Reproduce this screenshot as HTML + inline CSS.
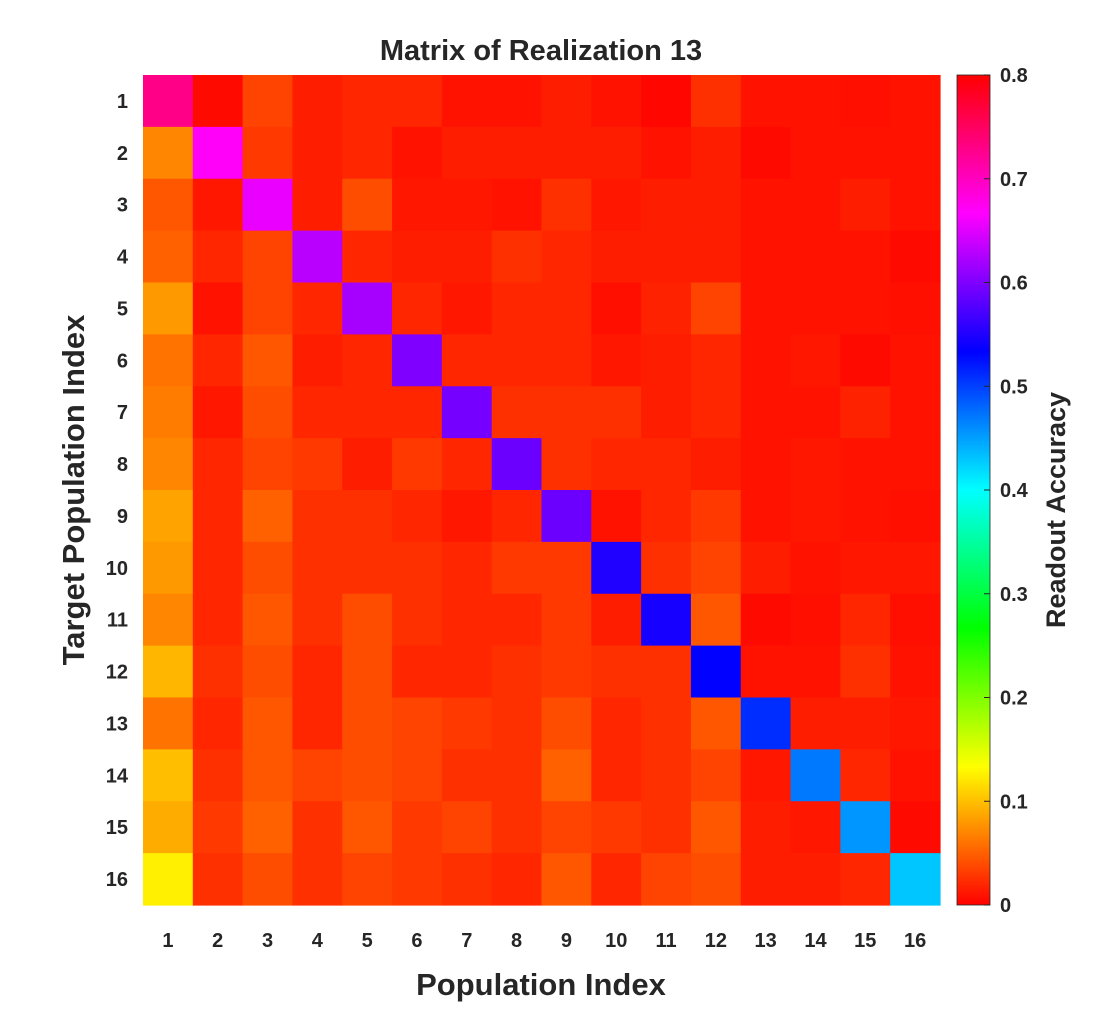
<!DOCTYPE html>
<html><head><meta charset="utf-8"><style>
body{margin:0;background:#fff;}
svg text{font-family:"Liberation Sans",sans-serif;fill:#262626;}
</style></head><body>
<svg id="chart" width="1094" height="1016">
<text x="541" y="60" text-anchor="middle" font-size="29" font-weight="bold">Matrix of Realization 13</text>
<g id="cells"></g>
<g id="xticks"></g>
<g id="yticks"></g>
<text x="541" y="995" text-anchor="middle" font-size="31" font-weight="bold">Population Index</text>
<text transform="translate(84,490) rotate(-90)" text-anchor="middle" font-size="31" font-weight="bold">Target Population Index</text>
<defs><linearGradient id="cbg" x1="0" y1="1" x2="0" y2="0">
<stop offset="0" stop-color="hsl(0,100%,50%)"/><stop offset="0.1667" stop-color="hsl(60,100%,50%)"/><stop offset="0.3333" stop-color="hsl(120,100%,50%)"/><stop offset="0.5" stop-color="hsl(180,100%,50%)"/><stop offset="0.6667" stop-color="hsl(240,100%,50%)"/><stop offset="0.8333" stop-color="hsl(300,100%,50%)"/><stop offset="1" stop-color="hsl(360,100%,50%)"/>
</linearGradient></defs>
<rect x="957" y="75" width="33" height="830" fill="url(#cbg)" stroke="#262626" stroke-width="0.8"/>
<g id="cbticks"></g>
<text transform="translate(1065,510) rotate(-90)" text-anchor="middle" font-size="27" font-weight="bold">Readout Accuracy</text>
</svg>
<script>
const rowLabels=["1","2","3","4","5","6","7","8","9","10","11","12","13","14","15","16"];
const colLabels=["1","2","3","4","5","6","7","8","9","10","11","12","13","14","15","16"];
const cbTicks=[0,0.1,0.2,0.3,0.4,0.5,0.6,0.7,0.8];
const row1=[0.73,0.005,0.035,0.015,0.02,0.02,0.01,0.01,0.015,0.01,0.003,0.025,0.01,0.01,0.008,0.01];
const row2=[0.07,0.67,0.03,0.015,0.02,0.01,0.015,0.015,0.015,0.015,0.01,0.015,0.005,0.01,0.01,0.01];
const row3=[0.045,0.012,0.655,0.015,0.04,0.012,0.012,0.01,0.025,0.012,0.015,0.015,0.01,0.01,0.015,0.01];
const row4=[0.05,0.02,0.035,0.63,0.02,0.015,0.015,0.025,0.02,0.015,0.015,0.015,0.01,0.01,0.01,0.005];
const row5=[0.08,0.01,0.035,0.02,0.62,0.02,0.012,0.02,0.02,0.008,0.018,0.035,0.01,0.01,0.01,0.008];
const row6=[0.06,0.02,0.045,0.015,0.02,0.6,0.02,0.02,0.02,0.012,0.015,0.02,0.01,0.012,0.005,0.01];
const row7=[0.065,0.012,0.04,0.02,0.02,0.02,0.595,0.025,0.025,0.025,0.015,0.02,0.01,0.01,0.018,0.01];
const row8=[0.07,0.02,0.035,0.03,0.015,0.03,0.02,0.59,0.025,0.02,0.02,0.015,0.01,0.012,0.01,0.01];
const row9=[0.085,0.02,0.05,0.025,0.025,0.02,0.012,0.02,0.59,0.01,0.02,0.03,0.01,0.012,0.01,0.008];
const row10=[0.08,0.02,0.04,0.025,0.025,0.025,0.02,0.03,0.03,0.55,0.025,0.035,0.015,0.01,0.012,0.012];
const row11=[0.07,0.02,0.045,0.025,0.04,0.025,0.02,0.02,0.03,0.015,0.545,0.045,0.005,0.008,0.02,0.008];
const row12=[0.095,0.025,0.04,0.02,0.04,0.02,0.02,0.025,0.03,0.025,0.025,0.533,0.01,0.01,0.025,0.01];
const row13=[0.06,0.02,0.045,0.02,0.04,0.035,0.03,0.025,0.04,0.02,0.025,0.045,0.51,0.015,0.015,0.012];
const row14=[0.1,0.025,0.045,0.035,0.04,0.035,0.025,0.025,0.05,0.02,0.025,0.035,0.012,0.47,0.02,0.01];
const row15=[0.09,0.03,0.05,0.025,0.045,0.03,0.035,0.025,0.035,0.03,0.025,0.045,0.015,0.012,0.455,0.005];
const row16=[0.125,0.025,0.04,0.025,0.035,0.03,0.025,0.02,0.045,0.02,0.035,0.04,0.015,0.015,0.02,0.43];
const matrix=[row1,row2,row3,row4,row5,row6,row7,row8,row9,row10,row11,row12,row13,row14,row15,row16];

const NS="http://www.w3.org/2000/svg";
const X0=143,X1=940,Y0=75,Y1=905,VMAX=0.8;
const cw=(X1-X0)/colLabels.length, ch=(Y1-Y0)/rowLabels.length;
const xPos=i=>X0+i*cw, yPos=j=>Y0+j*ch;
const cbY=v=>Y1-(v/VMAX)*(Y1-Y0);
const color=v=>`hsl(${Math.max(0,Math.min(1,v/VMAX))*360},100%,50%)`;
const cells=document.getElementById('cells');
matrix.forEach((row,j)=>row.forEach((v,i)=>{
  const r=document.createElementNS(NS,'rect');
  r.setAttribute('x',xPos(i));r.setAttribute('y',yPos(j));
  r.setAttribute('width',cw+0.6);r.setAttribute('height',ch+0.6);
  r.setAttribute('fill',color(v));
  
  
  cells.appendChild(r);
}));
const xt=document.getElementById('xticks');
colLabels.forEach((l,i)=>{
  const t=document.createElementNS(NS,'text');
  t.setAttribute('x',xPos(i)+cw/2);t.setAttribute('y',947);
  t.setAttribute('text-anchor','middle');t.setAttribute('font-size','20');t.setAttribute('font-weight','bold');
  t.textContent=l;
  
  
  xt.appendChild(t);
});
const yt=document.getElementById('yticks');
rowLabels.forEach((l,j)=>{
  const t=document.createElementNS(NS,'text');
  t.setAttribute('x',128);t.setAttribute('y',yPos(j)+ch/2+7);
  t.setAttribute('text-anchor','end');t.setAttribute('font-size','20');t.setAttribute('font-weight','bold');
  t.textContent=l;
  
  
  yt.appendChild(t);
});
const cb=document.getElementById('cbticks');
cbTicks.forEach(v=>{
  const ln=document.createElementNS(NS,'line');
  ln.setAttribute('x1',984);ln.setAttribute('x2',990);ln.setAttribute('y1',cbY(v));ln.setAttribute('y2',cbY(v));
  ln.setAttribute('stroke','#262626');
  
  
  cb.appendChild(ln);
  const t=document.createElementNS(NS,'text');
  t.setAttribute('x',1000);t.setAttribute('y',cbY(v)+7);
  t.setAttribute('font-size','20');t.setAttribute('font-weight','bold');
  t.textContent=v===0?'0':v.toFixed(1);
  
  
  cb.appendChild(t);
});
</script>
</body></html>
